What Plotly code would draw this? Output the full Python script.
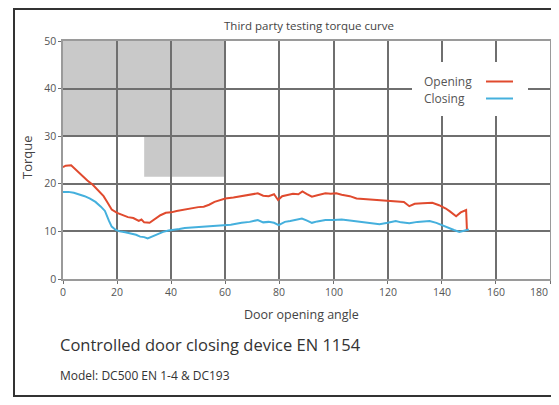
import plotly.graph_objects as go

# Opening torque curve (door angle in degrees, torque)
open_angle = [0, 1, 3, 5, 7, 9, 11, 13, 15, 16.5, 18, 20, 22, 24, 26, 28, 29, 30, 32, 34, 36, 38, 40,
              42, 44, 46, 48, 50, 52, 54, 56, 58, 60, 63, 66, 69, 72, 74, 76, 78, 79.5, 81, 83, 85, 87,
              88.5, 90, 92, 94, 97, 99, 101, 103, 106, 108.5, 111, 114, 117, 120, 123, 126, 128, 130,
              133, 136.5, 139, 141.5, 143, 145.3, 147, 149, 149.3]
open_torque = [23.5, 23.8, 23.9, 22.8, 21.8, 20.7, 19.8, 18.6, 17.4, 16.0, 14.6, 13.9, 13.5, 13.0, 12.8,
               12.2, 12.5, 11.9, 11.8, 12.6, 13.4, 13.9, 14.0, 14.3, 14.5, 14.8, 14.9, 15.1, 15.2, 15.6,
               16.2, 16.6, 16.9, 17.1, 17.4, 17.6, 18.0, 17.5, 17.4, 17.8, 16.6, 17.4, 17.6, 17.9, 17.8,
               18.4, 17.9, 17.3, 17.6, 18.0, 17.9, 18.0, 17.7, 17.4, 16.9, 16.8, 16.6, 16.5, 16.4, 16.3,
               16.2, 15.3, 15.8, 15.9, 16.0, 15.5, 14.8, 14.2, 13.2, 14.0, 14.5, 10.3]

# Closing torque curve
close_angle = [0, 2, 4, 6, 8, 10, 12, 14, 15.5, 17, 18, 19.5, 21, 23, 25, 27, 28.5, 30, 31.3, 33, 35, 37,
               39, 41, 43, 45, 47, 50, 53, 56, 59, 62, 66, 69, 72, 74, 76, 78, 79.7, 82, 84, 86, 88.3,
               90, 92, 94, 97, 100, 103, 106, 109, 111, 114, 117, 120, 123, 125, 128, 131, 135.5, 138,
               140, 142.8, 144.5, 146.5, 148, 150]
close_torque = [18.3, 18.3, 18.1, 17.8, 17.4, 16.9, 16.2, 15.2, 14.3, 12.2, 11.0, 10.3, 10.0, 9.8, 9.6,
                9.3, 8.9, 8.8, 8.5, 8.9, 9.5, 9.9, 10.2, 10.3, 10.5, 10.7, 10.8, 10.9, 11.0, 11.1, 11.3,
                11.4, 11.8, 12.0, 12.4, 11.9, 12.0, 11.8, 11.3, 12.0, 12.2, 12.4, 12.7, 12.3, 11.8, 12.1,
                12.4, 12.4, 12.5, 12.3, 12.1, 12.0, 11.8, 11.5, 11.8, 12.2, 11.9, 11.7, 12.0, 12.2, 11.8,
                11.3, 10.6, 10.3, 9.9, 10.1, 10.4]

# Shaded zone (angle, torque) polygon corners
zone_angle = [0, 60, 60, 30, 30, 0]
zone_torque = [50, 50, 21.5, 21.5, 30, 30]

x_ticks = [0, 20, 40, 60, 80, 100, 120, 140, 160, 180]
x_tick_labels = ["0", "20", "40", "60", "80", "100", "120", "140", "160", "180"]
y_ticks = [0, 10, 20, 30, 40, 50]

RED = "#e04a2e"
BLUE = "#45b0dd"
GRID = "#6f6f6f"
TXT = "#444444"
FONT = "Open Sans"

fig = go.Figure()

path = "M " + " L ".join(f"{a},{t}" for a, t in zip(zone_angle, zone_torque)) + " Z"
fig.add_shape(type="path", path=path, xref="x", yref="y", fillcolor="#c9c9c9",
              line=dict(width=0), layer="below")

fig.add_trace(go.Scatter(x=open_angle, y=open_torque, mode="lines", name="Opening",
                         line=dict(color=RED, width=2), showlegend=False))
fig.add_trace(go.Scatter(x=close_angle, y=close_torque, mode="lines", name="Closing",
                         line=dict(color=BLUE, width=2), showlegend=False))

OFF = 8  # page body margin
W, H = 543, 389
L, R, T, B = 55, 1, 33, 118
pw, ph = W - L - R, H - T - B

def px(xs):
    return (xs - OFF - L) / pw

def py(ys):
    return (H - B - (ys - OFF)) / ph

# legend box (manual, text left of line)
fig.add_shape(type="rect", xref="paper", yref="paper", x0=px(412), x1=px(528), y0=py(116), y1=py(62),
              fillcolor="white", line=dict(width=0), layer="above")
for name, col, yc in [("Opening", RED, 81.5), ("Closing", BLUE, 98.5)]:
    fig.add_annotation(text=name, xref="paper", yref="paper", x=px(422), y=py(yc),
                       xanchor="left", yanchor="middle", showarrow=False,
                       font=dict(family=FONT, size=12, color="#555555"))
    fig.add_shape(type="line", xref="paper", yref="paper", x0=px(486), x1=px(513),
                  y0=py(yc), y1=py(yc), line=dict(color=col, width=2), layer="above")

# outer frame (left, top, bottom; right side is cut off in the original)
frame = dict(color="#333333", width=2)
fig.add_shape(type="line", xref="paper", yref="paper", x0=px(14), x1=px(14), y0=py(396), y1=py(9),
              line=frame, layer="above")
fig.add_shape(type="line", xref="paper", yref="paper", x0=px(13), x1=px(551), y0=py(9), y1=py(9),
              line=frame, layer="above")
fig.add_shape(type="line", xref="paper", yref="paper", x0=px(13), x1=px(551), y0=py(396), y1=py(396),
              line=frame, layer="above")

# x tick labels (last one kept inside the frame, as in the original)
for v, lab in zip(x_ticks, x_tick_labels):
    fig.add_annotation(text=lab, xref="x", yref="paper", x=v, y=py(292),
                       xanchor="right" if v == x_ticks[-1] else "center", yanchor="middle",
                       showarrow=False, font=dict(family=FONT, size=10.5, color="#555555"))

fig.add_annotation(text="Third party testing torque curve", xref="paper", yref="paper",
                   x=px(309), y=py(25), showarrow=False, xanchor="center", yanchor="middle",
                   font=dict(family=FONT, size=11.5, color=TXT))
fig.add_annotation(text="Door opening angle", xref="paper", yref="paper",
                   x=px(301), y=py(314), showarrow=False, xanchor="center", yanchor="middle",
                   font=dict(family=FONT, size=12.5, color=TXT))
fig.add_annotation(text="Torque", xref="paper", yref="paper", textangle=-90,
                   x=px(27), y=py(157), showarrow=False, xanchor="center", yanchor="middle",
                   font=dict(family=FONT, size=13, color=TXT))
fig.add_annotation(text="Controlled door closing device EN 1154", xref="paper", yref="paper",
                   x=px(58), y=py(344), showarrow=False, xanchor="left", yanchor="middle",
                   font=dict(family=FONT, size=16.5, color="#333333"))
fig.add_annotation(text="Model: DC500 EN 1-4 & DC193", xref="paper", yref="paper",
                   x=px(58), y=py(375), showarrow=False, xanchor="left", yanchor="middle",
                   font=dict(family=FONT, size=12, color="#333333"))

axis_common = dict(showgrid=True, gridcolor=GRID, gridwidth=1.5, showline=True, linecolor="#9a9a9a",
                   linewidth=1.5, mirror=True, ticks="outside", ticklen=3, tickcolor=GRID,
                   zeroline=False, tickfont=dict(family=FONT, size=10.5, color="#555555"))
fig.update_xaxes(range=[0, 180], tickvals=x_ticks, showticklabels=False, **axis_common)
fig.update_yaxes(range=[0, 50], tickvals=y_ticks, **axis_common)

fig.update_layout(width=W, height=H, margin=dict(l=L, r=R, t=T, b=B, autoexpand=False),
                  paper_bgcolor="white", plot_bgcolor="white", showlegend=False)

fig.write_html("out.html")
